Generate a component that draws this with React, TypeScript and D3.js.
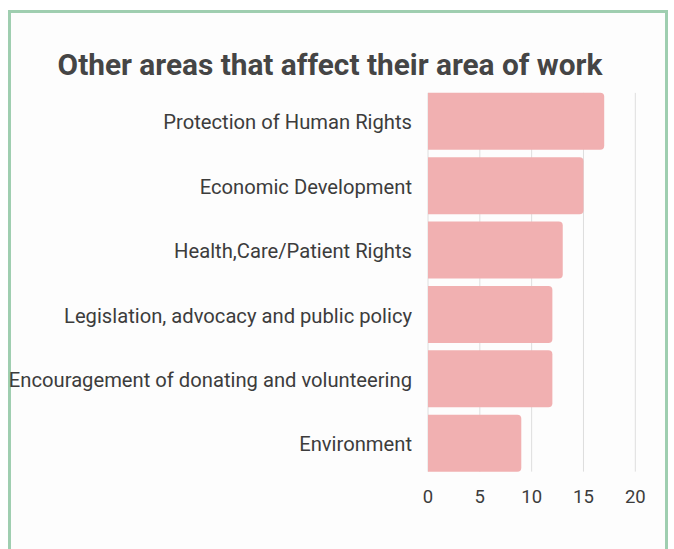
import React from 'react';
import * as d3 from 'd3';

// Chart data
const categories = [
  'Protection of Human Rights',
  'Economic Development',
  'Health,Care/Patient Rights',
  'Legislation, advocacy and public policy',
  'Encouragement of donating and volunteering',
  'Environment',
];
const counts = [17, 15, 13, 12, 12, 9];
const xTicks = [0, 5, 10, 15, 20];

const title = 'Other areas that affect their area of work';

const W = 674;
const H = 549;
const FONT = 'Roboto, "DejaVu Sans", sans-serif';

/**
 * Path for a bar with rounded right corners only
 */
function barPath(x0: number, x1: number, y: number, h: number, r: number): string {
  const rr = Math.min(r, (x1 - x0) / 2, h / 2);
  return `M${x0},${y}H${x1 - rr}Q${x1},${y} ${x1},${y + rr}V${y + h - rr}Q${x1},${y + h} ${x1 - rr},${y + h}H${x0}Z`;
}

const App: React.FC = () => {
  const x = d3.scaleLinear().domain([0, 20]).range([428, 635.3]);
  const y = d3
    .scaleBand<string>()
    .domain(categories)
    .range([89, 475.5])
    .paddingInner(0.115)
    .paddingOuter(0.06);

  const gridTop = y(categories[0])!;
  const gridBottom = y(categories[categories.length - 1])! + y.bandwidth();

  return (
    <svg
      width={W}
      height={H}
      style={{ position: 'absolute', left: 0, top: 0, display: 'block', background: '#ffffff' }}
    >
      <rect x={0} y={0} width={W} height={H} fill="#ffffff" />
      {/* card */}
      <rect x={9.5} y={11.5} width={657} height={560} fill="#fdfdfd" stroke="#9fceb0" strokeWidth={3} />

      <text
        x={330}
        y={75}
        textAnchor="middle"
        fontFamily={FONT}
        fontWeight={700}
        fontSize={29.8}
        fill="#454545"
      >
        {title}
      </text>

      {/* vertical grid lines */}
      {xTicks.map(t => (
        <line
          key={`g${t}`}
          x1={x(t)}
          x2={x(t)}
          y1={gridTop}
          y2={gridBottom}
          stroke="#dedede"
          strokeWidth={1}
        />
      ))}

      {/* bars */}
      {categories.map((c, i) => (
        <path
          key={c}
          d={barPath(x(0), x(counts[i]), y(c)!, y.bandwidth(), 4)}
          fill="#f1b0b1"
        />
      ))}

      {/* category labels */}
      {categories.map(c => (
        <text
          key={`l${c}`}
          x={412}
          y={y(c)! + y.bandwidth() / 2 + 1}
          dy="0.35em"
          textAnchor="end"
          fontFamily={FONT}
          fontSize={20.2}
          fill="#3c3c3c"
        >
          {c}
        </text>
      ))}

      {/* x tick labels */}
      {xTicks.map(t => (
        <text
          key={`t${t}`}
          x={x(t)}
          y={497}
          dy="0.35em"
          textAnchor="middle"
          fontFamily={FONT}
          fontSize={18.5}
          fill="#3c3c3c"
        >
          {t}
        </text>
      ))}
    </svg>
  );
};

export default App;
